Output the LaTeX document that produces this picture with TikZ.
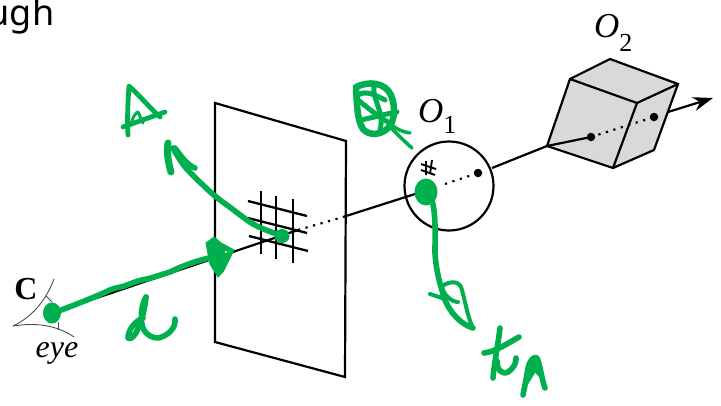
\documentclass[tikz,border=0pt]{standalone}
\usepackage{fontspec}
\setmainfont{Liberation Serif}
\newfontfamily\hwfont{Noto Sans}
\usetikzlibrary{arrows.meta}
\definecolor{pen}{HTML}{00B04F}
\definecolor{cubegray}{HTML}{D9D9D9}
\tikzset{
  ink/.style={draw=black,line width=2.2pt,line join=miter},
  thinink/.style={draw=black!70,line width=0.9pt},
  raydots/.style={draw=black,line width=2.2pt,dash pattern=on 2.2pt off 5.6pt},
  gridline/.style={draw=black,line width=2.3pt},
  hand/.style={draw=pen,line width=5.6pt,line cap=round,line join=round},
  handfine/.style={draw=pen,line width=3pt,line cap=round,line join=round},
  blob/.style={fill=pen,draw=pen,line width=1pt},
  dotmark/.style={circle,fill=black,inner sep=0pt,minimum size=8.5pt},
  lab/.style={inner sep=0pt,text=black},
}
\begin{document}
\begin{tikzpicture}[x=1pt,y=-1pt]
\useasboundingbox (0,0) rectangle (721,405);
\fill[white] (0,0) rectangle (721,405);
\begin{scope}
\clip (0,0) rectangle (721,405);
\node[lab,anchor=base east] (heading) at (54.5,25) {\hwfont\fontsize{36}{36}\selectfont ugh};
\end{scope}

% named points of the ray
\coordinate (eyept) at (52,313);
\coordinate (hit) at (280,236);
\coordinate (gridend) at (298,230);
\coordinate (planeray) at (343,217);
\coordinate (sphin) at (415,194);
\coordinate (sphout) at (492,168);
\coordinate (cubein) at (547,146);
\coordinate (cubeout) at (668,112);
\coordinate (tip) at (713,98);
\coordinate (p1) at (478,173);
\coordinate (p2) at (591,137);
\coordinate (p3) at (654,117);

% plane
\draw[ink] (215,103) -- (346,141) -- (345,377) -- (215,342) -- cycle;

% eye
\draw[thinink] (54,279) .. controls (45,303) and (30,318) .. (13,326);
\draw[thinink] (13,326) .. controls (38,322) and (58,326) .. (74,337);
\draw[thinink] (46,296) -- (52,302);
\draw[thinink] (58,322) -- (58,330);
\node[lab] (clabel) at (26,289) {\fontsize{32}{32}\selectfont\bfseries C};
\node[lab] (eyelabel) at (57,353) {\fontsize{32}{32}\selectfont\itshape eye};

% ray, black
\draw[ink] (eyept) -- (gridend);
\draw[raydots] (gridend) -- (planeray);
\draw[ink] (planeray) -- (sphin);
\draw[ink] (sphout) -- (cubein);

% image grid
\draw[gridline] (248,201) -- (307,216);
\draw[gridline] (248,218) -- (307,233);
\draw[gridline] (249,236) -- (308,251);
\draw[gridline] (261,191) -- (261,254);
\draw[gridline] (276,196) -- (276,259);
\draw[gridline] (293,199) -- (293,263);

% sphere
\node[circle,draw=black,line width=2.2pt,inner sep=0pt,minimum size=89pt] (sphere) at (449,186) {};
\draw[raydots] (445,184) -- (p1);
\node[dotmark] (c1) at (p1) {};
\draw[line width=1.9pt] (421,164) -- (436,169) (421,170) -- (435,175) (426,161) -- (426,175) (432,160) -- (430,174);
\node[lab,anchor=base west] (o1) at (418,122) {\fontsize{35}{35}\selectfont\itshape O\kern0pt\raisebox{-11pt}{\fontsize{26}{26}\selectfont\upshape 1}};

% cube
\draw[ink,fill=cubegray] (570,79) -- (610,59) -- (678,84) -- (654,150) -- (613,168) -- (547,146) -- cycle;
\draw[ink] (570,79) -- (637,103) -- (678,84);
\draw[ink] (637,103) -- (613,168);
\draw[ink] (cubein) -- (p2);
\draw[raydots] (p2) -- (p3);
\node[dotmark] (c2) at (p2) {};
\node[dotmark] (c3) at (p3) {};
\draw[ink,-{Stealth[length=20pt,width=14pt]}] (cubeout) -- (tip);
\node[lab,anchor=base west] (o2) at (594,37) {\fontsize{35}{35}\selectfont\itshape O\kern0pt\raisebox{-14pt}{\fontsize{26}{26}\selectfont\upshape 2}};

% pen: ray d
\draw[hand] (53,313) .. controls (75,305) and (95,297) .. (110,290) .. controls (116,287) and (120,288) .. (127,285) .. controls (135,282) and (140,280) .. (147,279) .. controls (155,277) and (160,275) .. (170,272) .. controls (180,267) and (195,261) .. (213,257);
\fill[blob] (52,313) ellipse (8.5 and 10);
\fill[blob,even odd rule] (214,237) -- (221,243) -- (234,250) -- (223,272) -- (218,277) -- (210,264) -- (206,243) -- cycle (224,251) -- (229,250) -- (225,255) -- cycle;

% pen: letter d
\draw[hand] (146,297) .. controls (141,305) and (140,320) .. (143,328) .. controls (146,335) and (152,338) .. (158,338) .. controls (168,336) and (176,328) .. (175,319);
\draw[hand] (143,318) .. controls (135,321) and (128,330) .. (128,338) .. controls (133,342) and (143,325) .. (146,297);

% pen: reflected ray
\fill[blob] (282,236) ellipse (7 and 6.5);
\draw[hand] (280,235) .. controls (265,230) and (255,226) .. (247,220) .. controls (240,215) and (235,211) .. (227,205) .. controls (218,199) and (210,192) .. (203,185) .. controls (195,178) and (188,170) .. (185,167) .. controls (180,160) and (176,154) .. (173,148);
\draw[hand,line width=7pt] (168,143) .. controls (166,152) and (169,165) .. (171,172);
\draw[hand] (175,148) .. controls (180,155) and (187,165) .. (195,168);

% pen: triangle
\draw[hand,line width=4.8pt] (123,127) -- (165,112);
\draw[hand,line width=4.8pt] (128,135) .. controls (127,118) and (128,100) .. (129,86) .. controls (140,96) and (150,108) .. (160,117);
\draw[handfine] (131,125) .. controls (132,118) and (136,112) .. (138,112) .. controls (140,115) and (141,120) .. (143,123);

% pen: scribble
\draw[hand,line width=6.5pt] (356,87) .. controls (368,81) and (385,82) .. (391,95) .. controls (396,108) and (395,122) .. (387,129) .. controls (380,135) and (369,136) .. (363,129) .. controls (357,120) and (357,105) .. (356,87);
\draw[hand,line width=5pt] (358,100) .. controls (368,108) and (380,118) .. (388,122);
\draw[hand,line width=5pt] (374,86) .. controls (372,100) and (385,112) .. (380,130);
\draw[hand,line width=5pt] (360,120) .. controls (372,118) and (385,114) .. (397,112);
\draw[hand,line width=5pt] (358,95) .. controls (366,90) and (375,95) .. (385,100);
\draw[hand,line width=3.5pt] (388,125) .. controls (395,132) and (405,142) .. (412,148);
\draw[hand,line width=3.5pt] (392,125) .. controls (396,129) and (403,132) .. (410,133);

% pen: hit on sphere and normal
\fill[blob] (426,192) ellipse (11 and 13);
\draw[hand] (432,200) .. controls (436,215) and (435,235) .. (435,253) .. controls (436,270) and (440,285) .. (445,300) .. controls (450,312) and (460,324) .. (473,328);
\draw[hand,line width=4pt] (473,328) .. controls (468,318) and (466,305) .. (462,290) .. controls (460,280) and (450,281) .. (442,286) .. controls (443,295) and (452,302) .. (458,302);
\draw[hand,line width=4pt] (430,294) -- (445,299);

% pen: tn
\draw[hand] (500,328) .. controls (498,345) and (494,365) .. (493,378);
\draw[hand] (484,353) .. controls (495,352) and (510,342) .. (519,337);
\draw[hand] (497,361) .. controls (497,370) and (502,375) .. (508,372) .. controls (513,369) and (517,362) .. (516,358);
\draw[hand] (523,395) .. controls (525,385) and (527,375) .. (528,368) .. controls (530,360) and (534,356) .. (537,358) .. controls (540,365) and (542,380) .. (545,388);
\fill[blob] (526,370) -- (535,356) -- (541,366) -- (543,380) -- (535,372) -- (527,385) -- cycle;
\end{tikzpicture}
\end{document}
